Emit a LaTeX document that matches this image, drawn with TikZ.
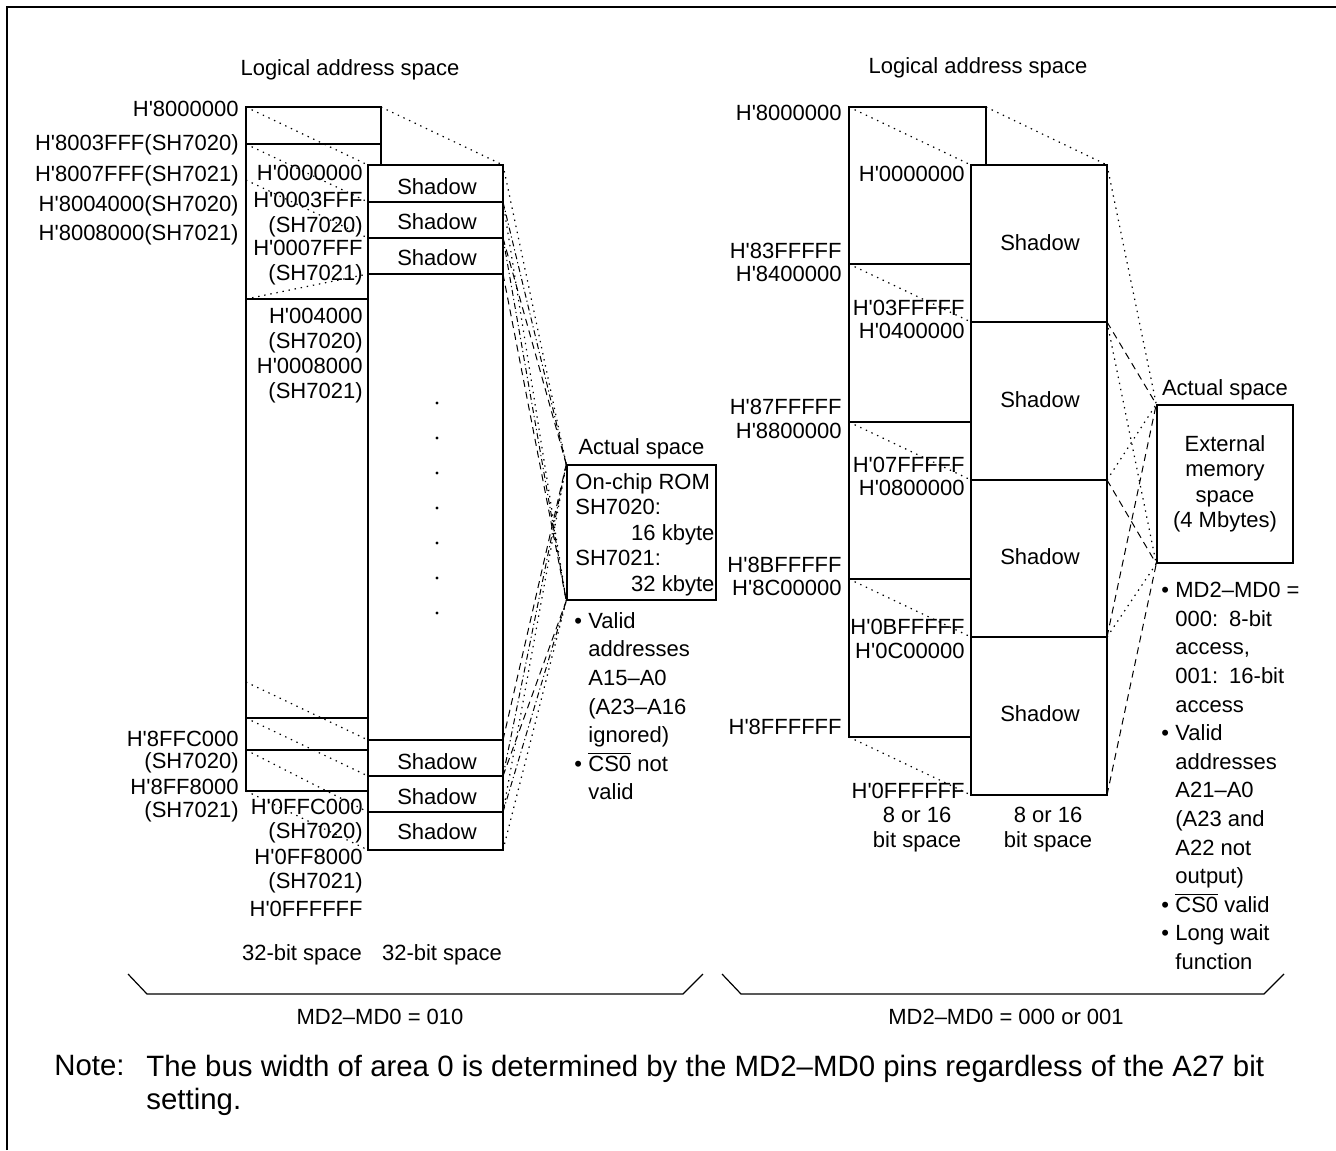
\documentclass[tikz,border=0pt]{standalone}
\usepackage{fontspec}
\setmainfont{Liberation Sans}[Ligatures=TeXOff]
\usetikzlibrary{positioning}

\newcommand{\bul}{\makebox[7pt][l]{\textbullet}}
\newcommand{\ind}{\hspace*{7pt}}
\newcommand{\csbar}{$\overline{\mbox{CS0}}$}

\tikzset{
  blk/.style={draw,line width=0.75pt},
  mdot/.style={line width=0.6pt,dash pattern=on 0.7pt off 2.4pt},
  mdash/.style={line width=0.5pt,dash pattern=on 3.5pt off 2.5pt},
  mdd/.style={line width=0.5pt,dash pattern=on 3pt off 1.5pt on 0.6pt off 1.5pt},
  adr/.style={anchor=mid east},
}

\begin{document}
\begin{tikzpicture}[x=0.5pt,y=-0.5pt,
    every node/.style={inner sep=0pt,font=\fontsize{11}{12.5}\selectfont}]

  \useasboundingbox (0,0) rectangle (1336,1150);

  % page frame
  \draw[line width=1pt] (7,1150) -- (7,7) -- (1336,7);

  %% ---- MD2-MD0 = 010 ----
  \node (logA) at (350,70) {Logical address space};

  % logical address space, two 32-bit columns
  \draw[blk] (246,107) rectangle (381,791);
  \draw[blk] (246,144) -- (381,144);
  \foreach \y in {299,718,750}
    \draw[blk] (246,\y) -- (368,\y);
  \draw[blk,fill=white] (368,165) rectangle (503,850);
  \foreach \y in {202,238,274,740,776,812}
    \draw[blk] (368,\y) -- (503,\y);

  % shadow corners on the right edge
  \foreach \y [count=\i] in {165,202,238,274,740,776,812,850}
    \coordinate (s\i) at (503,\y);

  % dotted lines between the columns
  \coordinate (atr) at (381,107);
  \draw[mdot] (atr) -- (s1);
  \foreach \ya/\yb [count=\i] in {107/165,144/202,180/238,299/274,682/740,718/776,750/812,791/850}{
    \coordinate (al\i) at (246,\ya);
    \coordinate (bl\i) at (368,\yb);
    \draw[mdot] (al\i) -- (bl\i);
  }

  % actual space: on-chip ROM
  \node[blk,minimum width=74.5pt,minimum height=67.5pt] (rom) at (641.5,532.5) {};
  \node[above=2.5pt of rom] (actA) {Actual space};
  \node[anchor=north west,align=left,font=\fontsize{11}{12.75}\selectfont] (romtxt) at (575,473)
    {On-chip ROM\\SH7020:\\\makebox[69.5pt][r]{16 kbyte}\\SH7021:\\\makebox[69.5pt][r]{32 kbyte}};

  % shadows mapped onto the ROM
  \foreach \a/\b/\st in {1/2/mdot,2/3/mdd,3/4/mdash,5/6/mdash,6/7/mdd,7/8/mdot}{
    \draw[\st] (s\a) -- (rom.north west);
    \draw[\st] (s\b) -- (rom.south west);
  }

  % addresses
  \foreach \t/\y [count=\i] in {H'8000000/111,H'8003FFF(SH7020)/145,H'8007FFF(SH7021)/176,H'8004000(SH7020)/206,H'8008000(SH7021)/235,H'8FFC000/741,(SH7020)/763,H'8FF8000/789,(SH7021)/812}
    \node[adr] (la\i) at (239,\y) {\t};
  \foreach \t/\y [count=\i] in {H'0000000/175,H'0003FFF/202,(SH7020)/227,H'0007FFF/250,(SH7021)/275,H'004000/318,(SH7020)/343,H'0008000/368,(SH7021)/393,H'0FFC000/809,(SH7020)/833,H'0FF8000/859,(SH7021)/883,H'0FFFFFF/911}
    \node[adr] (lb\i) at (363,\y) {\t};

  \foreach \y [count=\i] in {187,222,258,762,797,832}
    \node (shA\i) at (437,\y) {Shadow};
  \foreach \y in {403,438,...,613}
    \fill (437,\y) circle[radius=0.8pt];

  \node (bitA1) at (302,955) {32-bit space};
  \node (bitA2) at (442,955) {32-bit space};

  % remarks under the ROM
  \node[anchor=north west,align=left,font=\fontsize{11}{14.3}\selectfont] (remA) at (574,612)
    {\bul Valid\\\ind addresses\\\ind A15–A0\\\ind (A23–A16\\\ind ignored)\\\bul \csbar{} not\\\ind valid};

  %% ---- MD2-MD0 = 000 or 001 ----
  \node (logB) at (978,68) {Logical address space};

  \draw[blk] (849,107) rectangle (986,737);
  \foreach \y in {264,422,579}
    \draw[blk] (849,\y) -- (971,\y);
  \draw[blk,fill=white] (971,165) rectangle (1107,795);
  \foreach \y in {322,480,637}
    \draw[blk] (971,\y) -- (1107,\y);

  \foreach \y [count=\i] in {165,322,480,637,795}
    \coordinate (t\i) at (1107,\y);

  \coordinate (ctr) at (986,107);
  \draw[mdot] (ctr) -- (t1);
  \foreach \y [count=\i] in {107,264,422,579,737}{
    \coordinate (cl\i) at (849,\y);
    \coordinate (dl\i) at (971,\y+58);
    \draw[mdot] (cl\i) -- (dl\i);
  }

  % actual space: external memory
  \node[blk,minimum width=68pt,minimum height=79pt,align=center,font=\fontsize{11}{12.75}\selectfont] (ext) at (1225,484)
    {External\\memory\\space\\(4 Mbytes)};
  \node[above=2pt of ext] (actB) {Actual space};

  \foreach \a/\b/\st in {1/2/mdot,2/3/mdash,3/4/mdot,4/5/mdash}{
    \draw[\st] (t\a) -- (ext.north west);
    \draw[\st] (t\b) -- (ext.south west);
  }

  \foreach \t/\y [count=\i] in {H'8000000/115,H'83FFFFF/253,H'8400000/276,H'87FFFFF/409,H'8800000/433,H'8BFFFFF/567,H'8C00000/590,H'8FFFFFF/729}
    \node[adr] (lc\i) at (842,\y) {\t};
  \foreach \t/\y [count=\i] in {H'0000000/176,H'03FFFFF/310,H'0400000/333,H'07FFFFF/467,H'0800000/490,H'0BFFFFF/629,H'0C00000/653,H'0FFFFFF/793}
    \node[adr] (ld\i) at (965,\y) {\t};

  \foreach \y [count=\i] in {243,400,557,714}
    \node (shB\i) at (1040,\y) {Shadow};

  \node[align=center] (bitB1) at (917,830) {8 or 16\\bit space};
  \node[align=center] (bitB2) at (1048,830) {8 or 16\\bit space};

  \node[anchor=north west,align=left,font=\fontsize{11}{14.3}\selectfont] (remB) at (1161,582)
    {\bul MD2–MD0 =\\\ind 000:\enspace 8-bit\\\ind access,\\\ind 001:\enspace 16-bit\\\ind access\\\bul Valid\\\ind addresses\\\ind A21–A0\\\ind (A23 and\\\ind A22 not\\\ind output)\\\bul \csbar{} valid\\\bul Long wait\\\ind function};

  % braces and mode labels
  \draw[line width=0.6pt] (128,974) -- (147,994) -- (683,994) -- (703,974);
  \draw[line width=0.6pt] (722,974) -- (741,994) -- (1264,994) -- (1284,974);
  \node (modeA) at (380,1017) {MD2–MD0 = 010};
  \node (modeB) at (1006,1017) {MD2–MD0 = 000 or 001};

  % note
  \node[anchor=north west,font=\fontsize{14.7}{16.5}\selectfont] (noteh) at (54,1055) {Note:};
  \node[anchor=north west,align=left,font=\fontsize{14.7}{16.5}\selectfont] (notet) at (146,1055)
    {The bus width of area 0 is determined by the MD2–MD0 pins regardless of the A27 bit\\setting.};

\end{tikzpicture}
\end{document}
